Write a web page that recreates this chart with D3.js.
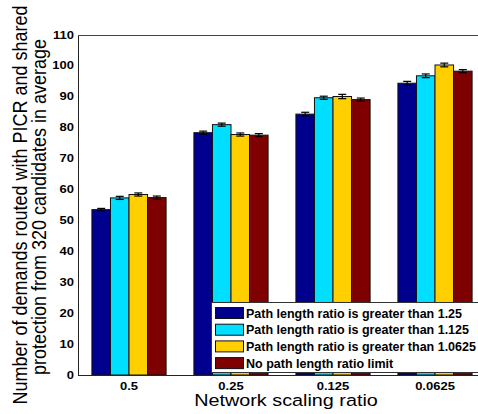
<!DOCTYPE html>
<html><head><meta charset="utf-8">
<script src="https://cdn.jsdelivr.net/npm/d3@7"></script>
<style>body{margin:0;background:#fff;overflow:hidden} svg{display:block} text{font-family:"Liberation Sans",Arial,sans-serif;fill:#000}</style>
</head><body><svg id="c" width="478" height="414"></svg>
<script>
const categories = ["0.5", "0.25", "0.125", "0.0625"];
const seriesNames = [
  "Path length ratio is greater than 1.25",
  "Path length ratio is greater than 1.125",
  "Path length ratio is greater than 1.0625",
  "No path length ratio limit"
];
const seriesColors = ["#00008f", "#00dfff", "#ffcf00", "#7f0000"];
const s1 = [53.5, 78.4, 84.4, 94.4];
const s2 = [57.3, 81.0, 89.7, 96.8];
const s3 = [58.4, 77.8, 90.1, 100.3];
const s4 = [57.4, 77.6, 89.1, 98.3];
const e1 = [0.4, 0.5, 0.6, 0.6];
const e2 = [0.5, 0.5, 0.5, 0.6];
const e3 = [0.5, 0.5, 0.7, 0.6];
const e4 = [0.5, 0.5, 0.5, 0.5];
const yTicks = [0, 10, 20, 30, 40, 50, 60, 70, 80, 90, 100, 110];
const xLabel = "Network scaling ratio";
const yLabel1 = "Number of demands routed with PICR and shared";
const yLabel2 = "protection from 320 candidates in average";

const values = [s1, s2, s3, s4];
const errors = [e1, e2, e3, e4];
const svg = d3.select("#c");

const x0 = d3.scaleBand().domain(categories).range([78, 486]).padding(0);
const x1 = d3.scaleBand().domain(d3.range(4)).range([0, x0.bandwidth()]).paddingInner(0).paddingOuter(0.75);
const y = d3.scaleLinear().domain([0, 110]).range([375, 35]);

// axes box (left, top, bottom)
svg.append("line").attr("x1", 78.5).attr("x2", 78.5).attr("y1", y(110)).attr("y2", y(0)).attr("stroke", "#222").attr("stroke-width", 1);
svg.append("line").attr("x1", 78).attr("x2", 478).attr("y1", y(110) + 0.5).attr("y2", y(110) + 0.5).attr("stroke", "#444").attr("stroke-width", 1);

// bars
const groups = svg.append("g");
categories.forEach((c, ci) => {
  values.forEach((arr, si) => {
    const bx = x0(c) + x1(si);
    const bw = x1.bandwidth();
    groups.append("rect")
      .attr("x", bx).attr("y", y(arr[ci]))
      .attr("width", bw).attr("height", y(0) - y(arr[ci]))
      .attr("fill", seriesColors[si]).attr("stroke", "#111").attr("stroke-width", 1);
    const cx = bx + bw / 2;
    const hi = y(arr[ci] + errors[si][ci]), lo = y(arr[ci] - errors[si][ci]);
    groups.append("line").attr("x1", cx).attr("x2", cx).attr("y1", hi).attr("y2", lo).attr("stroke", "#000").attr("stroke-width", 1.2);
    [hi, lo].forEach(yy => groups.append("line").attr("x1", cx - 4).attr("x2", cx + 4).attr("y1", yy).attr("y2", yy).attr("stroke", "#000").attr("stroke-width", 1.2));
  });
});

// bottom axis line
svg.append("line").attr("x1", 78).attr("x2", 478).attr("y1", y(0) + 0.5).attr("y2", y(0) + 0.5).attr("stroke", "#222").attr("stroke-width", 1);

// y tick labels
yTicks.forEach(t => {
  svg.append("text")
    .attr("transform", `translate(74,${y(t) + 3.5}) scale(1.3,1)`)
    .attr("text-anchor", "end").attr("font-size", 10).attr("font-weight", "bold").text(t);
});
// x tick labels
categories.forEach(c => {
  svg.append("text")
    .attr("transform", `translate(${x0(c) + x0.bandwidth() / 2},${390}) scale(1.3,1)`)
    .attr("text-anchor", "middle").attr("font-size", 10).attr("font-weight", "bold").text(c);
});

// axis titles
svg.append("text")
  .attr("transform", `translate(${(78 + 486) / 2 + 4},406) scale(1.2,1)`)
  .attr("text-anchor", "middle").attr("font-size", 16.5).text(xLabel);
svg.append("text")
  .attr("transform", `translate(27,205) scale(1.16,1) rotate(-90)`)
  .attr("text-anchor", "middle").attr("font-size", 18).text(yLabel1);
svg.append("text")
  .attr("transform", `translate(46,207) scale(1.16,1) rotate(-90)`)
  .attr("text-anchor", "middle").attr("font-size", 18).text(yLabel2);

// legend
const lg = svg.append("g");
lg.append("rect").attr("x", 211.5).attr("y", 302.5).attr("width", 270).attr("height", 70)
  .attr("fill", "#fff").attr("stroke", "#333").attr("stroke-width", 1);
seriesNames.forEach((n, i) => {
  const cy = 313 + i * 16.7;
  lg.append("rect").attr("x", 215.5).attr("y", cy - 5.5).attr("width", 28).attr("height", 11)
    .attr("fill", seriesColors[i]).attr("stroke", "#111").attr("stroke-width", 1);
  lg.append("text").attr("x", 246).attr("y", cy + 4.5).attr("font-size", 12.5).attr("font-weight", "bold").text(n);
});
</script></body></html>
